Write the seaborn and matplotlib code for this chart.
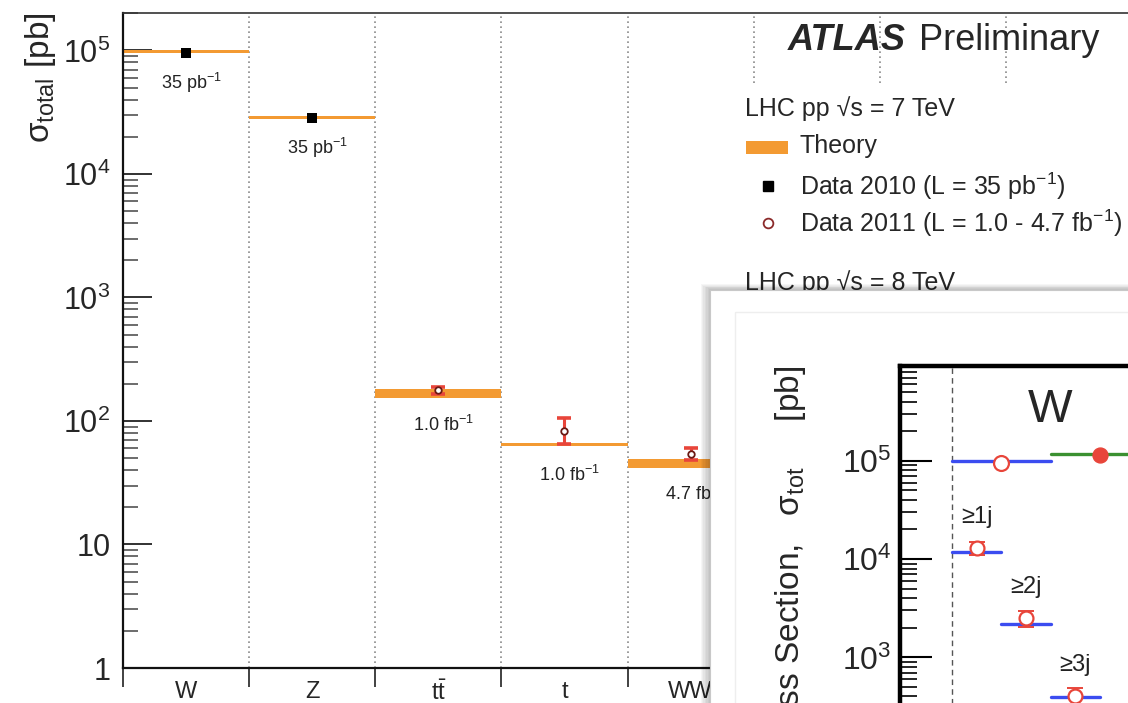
import numpy as np
import matplotlib
matplotlib.use("Agg")
import matplotlib.pyplot as plt
import seaborn as sns
from matplotlib.patches import Rectangle
from matplotlib.ticker import FixedLocator, FixedFormatter, LogLocator, NullFormatter

# ---------------- data ----------------
categories = ["W", "Z", "$\\mathrm{t}\\bar{\\mathrm{t}}$", "t", "WW"]
n_slots = 8  # further categories lie under the legend / inset
theory_val = [98000, 28700, 167, 64.6, 45.5]
theory_lo = [95000, 27700, 154, 63.0, 41.5]
theory_hi = [101000, 29700, 183, 66.4, 49.5]
data2010_cat = [0, 1]
data2010_val = [96000, 28500]
data2011_cat = [2, 3, 4]
data2011_val = [177, 83, 54]
data2011_err_lo = [12, 18, 6]
data2011_err_hi = [12, 22, 6]
lumi_labels = ["35 pb$^{-1}$", "35 pb$^{-1}$", "1.0 fb$^{-1}$", "1.0 fb$^{-1}$", "4.7 fb$^{-1}$"]
main_yticks = [1, 10, 100, 1e3, 1e4, 1e5]
main_yticklabels = ["1", "10", "$10^{2}$", "$10^{3}$", "$10^{4}$", "$10^{5}$"]

# inset (W production) data
inset_total_edges_7 = [0, 2]
inset_total_edges_8 = [2, 4]
inset_total_theory = [1.0e5, 1.18e5]
inset_total_data = [0.95e5, 1.15e5]
inset_total_x = [1, 3]
jet_labels = ["\u22651j", "\u22652j", "\u22653j"]
jet_edges = [0, 1, 2, 3]
jet_theory = [1.18e4, 2.2e3, 392]
jet_data = [1.29e4, 2.49e3, 405]
jet_err_lo = [1.9e3, 4.7e2, 70]
jet_err_hi = [2.1e3, 4.4e2, 80]
inset_yticks = [1e2, 1e3, 1e4, 1e5]
inset_yticklabels = ["$10^{2}$", "$10^{3}$", "$10^{4}$", "$10^{5}$"]

# ---------------- style ----------------
sns.set_style("white")
plt.rcParams["font.family"] = ["Liberation Sans", "DejaVu Sans"]
plt.rcParams["mathtext.fontset"] = "custom"
plt.rcParams["mathtext.rm"] = "Liberation Sans"
plt.rcParams["mathtext.it"] = "Liberation Sans:italic"
plt.rcParams["mathtext.bf"] = "Liberation Sans:bold"

ORANGE = "#F39A32"
RED = "#E8453A"
DARKRED = "#6B1A14"

W, H = 1128, 703
def fa(l, t, r, b):
    return [l / W, 1 - b / H, (r - l) / W, (b - t) / H]

fig = plt.figure(figsize=(11.28, 7.03), dpi=100)

# ---------------- main axes ----------------
ax = fig.add_axes(fa(123, 12.5, 1132, 668), zorder=1)
ax.set_yscale("log")
ax.set_xlim(0, n_slots)
ax.set_ylim(1, 2.03e5)

for i in range(1, n_slots):
    ax.axvline(i, color="#8a8a8a", ls=(0, (1, 2)), lw=1.2, zorder=0.5)

for i, (lo, hi) in enumerate(zip(theory_lo, theory_hi)):
    ax.fill_between([i, i + 1], [lo, lo], [hi, hi], color=ORANGE, lw=0, zorder=2)

sns.scatterplot(x=[c + 0.5 for c in data2010_cat], y=data2010_val, marker="s",
                s=45, color="black", edgecolor="black", linewidth=0, ax=ax,
                legend=False, zorder=4)

ax.errorbar([c + 0.5 for c in data2011_cat], data2011_val,
            yerr=[data2011_err_lo, data2011_err_hi], fmt="none", ecolor=RED,
            elinewidth=2.2, capsize=5, capthick=2.6, zorder=3)
sns.scatterplot(x=[c + 0.5 for c in data2011_cat], y=data2011_val, marker="o",
                s=22, color="white", edgecolor=DARKRED, linewidth=1.3, ax=ax,
                legend=False, zorder=5)

for i, (v, lab) in enumerate(zip(theory_val, lumi_labels)):
    ax.annotate(lab, (i + 0.5, v), xytext=(5, -31), textcoords="offset pixels",
                ha="center", va="center", fontsize=13, color="#222222")

ax.yaxis.set_major_locator(FixedLocator(main_yticks))
ax.yaxis.set_major_formatter(FixedFormatter(main_yticklabels))
ax.yaxis.set_minor_locator(LogLocator(base=10, subs=np.arange(2, 10)))
ax.yaxis.set_minor_formatter(NullFormatter())
ax.tick_params(axis="y", which="major", direction="in", length=21, width=1.3,
               labelsize=22, pad=9, color="#222222", left=True, right=False)
ax.tick_params(axis="y", which="minor", direction="in", length=11, width=1.1,
               color="#444444", left=True, right=False)

ax.set_xticks(np.arange(0, n_slots + 1))
ax.set_xticklabels([])
ax.set_xticks(np.arange(len(categories)) + 0.5, minor=True)
ax.set_xticklabels(categories, minor=True)
ax.tick_params(axis="x", which="major", direction="out", length=14, width=1.3,
               color="#333333", bottom=True, top=False)
ax.tick_params(axis="x", which="minor", length=0, labelsize=17, pad=9)

for side in ["left", "bottom"]:
    ax.spines[side].set_linewidth(1.6)
    ax.spines[side].set_color("#111111")
ax.spines["top"].set_linewidth(1.2)
ax.spines["top"].set_color("#333333")
ax.spines["right"].set_visible(False)
ax.grid(False)

fig.text(40 / W, 1 - 12 / H, "\u03c3$_{\\rm total}$ [pb]", rotation=90,
         ha="center", va="top", fontsize=24)

# ---------------- overlay: legend region ----------------
ov = fig.add_axes([0, 0, 1, 1], zorder=2)
ov.set_xlim(0, W)
ov.set_ylim(H, 0)
ov.axis("off")
ov.patch.set_alpha(0)
ov.add_patch(Rectangle((736, 86), 420, 240, fc="white", ec="none"))
ov.text(788, 40, "ATLAS", fontsize=26, fontweight="bold", fontstyle="italic",
        ha="left", va="center")
ov.text(919, 40, "Preliminary", fontsize=26, ha="left", va="center")
ov.text(745, 109, "LHC pp \u221as = 7 TeV", fontsize=18, ha="left", va="center")
ov.add_patch(Rectangle((746, 141), 42, 13, fc=ORANGE, ec="none"))
ov.text(800, 146, "Theory", fontsize=18, ha="left", va="center")
ov.plot([768], [186], marker="s", ms=7, color="black", ls="none")
ov.text(800, 186, "Data 2010 (L = 35 pb$^{-1}$)", fontsize=18, ha="left", va="center")
ov.plot([768], [223], marker="o", ms=7, mfc="white", mec="#8B2A2A", mew=1.3, ls="none")
ov.text(800, 223, "Data 2011 (L = 1.0 - 4.7 fb$^{-1}$)", fontsize=18, ha="left", va="center")
ov.text(745, 283, "LHC pp \u221as = 8 TeV", fontsize=18, ha="left", va="center")

# ---------------- inset panel ----------------
pn = fig.add_axes([0, 0, 1, 1], zorder=3)
pn.set_xlim(0, W)
pn.set_ylim(H, 0)
pn.axis("off")
pn.patch.set_alpha(0)
for k in range(7):
    pn.add_patch(Rectangle((709 - k * 1.4, 289 - k * 0.8), 600, 600,
                           fc="black", ec="none", alpha=0.035))
pn.add_patch(Rectangle((710, 290), 600, 600, fc="white", ec="#c8c8c8", lw=0.8))
pn.add_patch(Rectangle((735, 312), 600, 600, fc="none", ec="#eeeeee", lw=1.0))
pn.text(790, 366, "Production Cross Section,   \u03c3$_{\\rm tot}$     [pb]",
        rotation=90, ha="center", va="top", fontsize=24)

# ---------------- inset axes ----------------
ai = fig.add_axes(fa(900, 366, 1248, 854), zorder=4)
ai.set_facecolor("white")
ai.set_yscale("log")
ai.set_xlim(-1.05, 6)
ai.set_ylim(10, 9.2e5)
ai.axvline(0, color="#555555", ls=(0, (4, 3)), lw=1.0)

ai.plot(inset_total_edges_7, [inset_total_theory[0]] * 2, color="#3B4CF0", lw=2.4)
ai.plot(inset_total_edges_8, [inset_total_theory[1]] * 2, color="#3A9030", lw=2.4)
for i in range(len(jet_theory)):
    ai.plot(jet_edges[i:i + 2], [jet_theory[i]] * 2, color="#3B4CF0", lw=2.4)

jet_x = [e + 0.5 for e in jet_edges[:-1]]
ai.errorbar(jet_x, jet_data, yerr=[jet_err_lo, jet_err_hi], fmt="none",
            ecolor=RED, elinewidth=1.4, capsize=6, capthick=1.4, zorder=3)
sns.scatterplot(x=jet_x, y=jet_data, marker="o", s=100, color="white",
                edgecolor=RED, linewidth=1.6, ax=ai, legend=False, zorder=5)
sns.scatterplot(x=[inset_total_x[0]], y=[inset_total_data[0]], marker="o", s=115,
                color="white", edgecolor=RED, linewidth=1.6, ax=ai, legend=False, zorder=5)
sns.scatterplot(x=[inset_total_x[1]], y=[inset_total_data[1]], marker="o", s=115,
                color=RED, edgecolor=RED, linewidth=1.0, ax=ai, legend=False, zorder=5)

for x, v, lab in zip(jet_x, jet_data, jet_labels):
    ai.annotate(lab, (x, v), xytext=(0, 31), textcoords="offset pixels",
                ha="center", va="center", fontsize=17, color="#222222")
ai.text(2.0, 3.3e5, "W", fontsize=34, ha="center", va="center")

ai.yaxis.set_major_locator(FixedLocator(inset_yticks))
ai.yaxis.set_major_formatter(FixedFormatter(inset_yticklabels))
ai.yaxis.set_minor_locator(LogLocator(base=10, subs=np.arange(2, 10)))
ai.yaxis.set_minor_formatter(NullFormatter())
ai.tick_params(axis="y", which="major", direction="in", length=23, width=1.5,
               labelsize=23, pad=6, color="black", left=True, right=False)
ai.tick_params(axis="y", which="minor", direction="in", length=12, width=1.2,
               color="black", left=True, right=False)
ai.set_xticks([])
for side in ["left", "top"]:
    ai.spines[side].set_linewidth(3.2)
    ai.spines[side].set_color("black")
for side in ["right", "bottom"]:
    ai.spines[side].set_visible(False)
ai.grid(False)

fig.savefig("out.png", dpi=100)
